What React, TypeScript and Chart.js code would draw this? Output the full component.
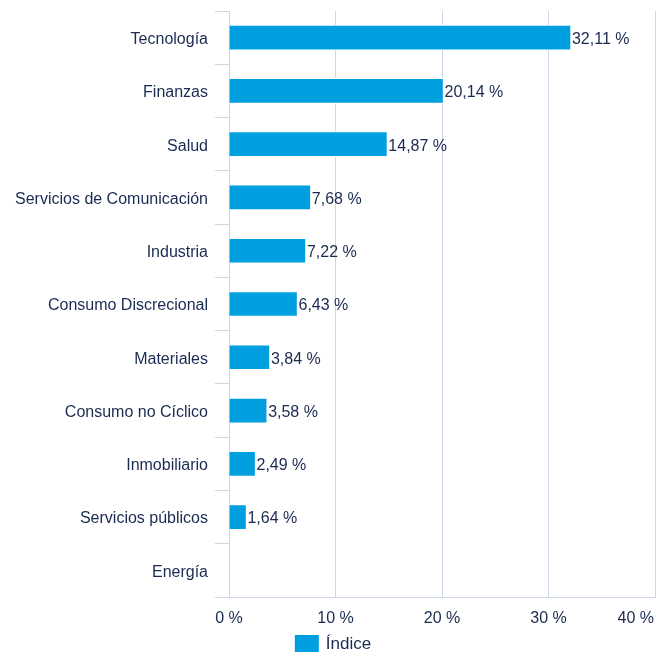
import React, { useEffect, useRef } from "react";
import { Chart, registerables } from "chart.js";

Chart.register(...registerables);

const categories: string[] = [
  "Tecnología",
  "Finanzas",
  "Salud",
  "Servicios de Comunicación",
  "Industria",
  "Consumo Discrecional",
  "Materiales",
  "Consumo no Cíclico",
  "Inmobiliario",
  "Servicios públicos",
  "Energía",
];

const indiceValues: (number | null)[] = [
  32.11, 20.14, 14.87, 7.68, 7.22, 6.43, 3.84, 3.58, 2.49, 1.64, null,
];

const xTickValues: number[] = [0, 10, 20, 30, 40];
const seriesName = "Índice";

const FONT = "'Liberation Sans', Arial, Helvetica, sans-serif";
const TEXT = "#1a2a50";
const GRID = "#ccd6eb";
const BAR = "#009fe0";

const fmt = (v: number) => v.toFixed(2).replace(".", ",") + " %";

const labelsPlugin = {
  id: "customLabels",
  afterDatasetsDraw(chart: any) {
    const ctx = chart.ctx as CanvasRenderingContext2D;
    const meta = chart.getDatasetMeta(0);
    ctx.save();
    ctx.font = `16px ${FONT}`;
    ctx.fillStyle = TEXT;
    ctx.textBaseline = "middle";
    ctx.textAlign = "left";
    meta.data.forEach((el: any, i: number) => {
      const v = indiceValues[i];
      if (v === null || v === undefined) return;
      ctx.fillText(fmt(v), el.x + 1, el.y + 2);
    });
    // x tick labels
    const xs = chart.scales.x;
    const last = xTickValues.length - 1;
    xTickValues.forEach((t, i) => {
      const px = xs.getPixelForValue(t);
      const txt = `${t} %`;
      const w = ctx.measureText(txt).width;
      let x = px - w / 2;
      if (i === last) x = Math.min(x, chart.width - 14 - w);
      ctx.fillText(txt, x, chart.chartArea.bottom + 22);
    });
    // legend
    ctx.font = `17px ${FONT}`;
    const tw = ctx.measureText(seriesName).width;
    const boxW = 24;
    const boxH = 17;
    const gap = 7;
    const total = boxW + gap + tw;
    const lx = chart.width / 2 - 1 - total / 2;
    const ly = chart.height - boxH;
    ctx.fillStyle = BAR;
    ctx.fillRect(lx, ly, boxW, boxH);
    ctx.fillStyle = TEXT;
    ctx.fillText(seriesName, lx + boxW + gap, ly + boxH / 2 + 1);
    ctx.restore();
  },
};

export default function App() {
  const ref = useRef<HTMLCanvasElement | null>(null);

  useEffect(() => {
    if (!ref.current) return;
    const chart = new Chart(ref.current, {
      type: "bar",
      data: {
        labels: categories,
        datasets: [
          {
            label: seriesName,
            data: indiceValues,
            backgroundColor: BAR,
            borderColor: "#ffffff",
            borderWidth: 1,
            barThickness: 25,
          },
        ],
      },
      options: {
        indexAxis: "y",
        animation: false,
        responsive: false,
        maintainAspectRatio: false,
        layout: { padding: { top: 11, right: 13, left: 0, bottom: 17 } },
        plugins: {
          tooltip: { enabled: false },
          legend: { display: false },
        },
        scales: {
          x: {
            min: 0,
            max: 40,
            ticks: { display: false, stepSize: 10 },
            grid: { color: GRID, drawTicks: false, lineWidth: 1 },
            border: { display: true, color: GRID, width: 1 },
            afterFit: (s: any) => {
              s.height = 38;
              s.paddingLeft = 0;
              s.paddingRight = 0;
            },
          },
          y: {
            ticks: {
              color: TEXT,
              padding: 7,
              labelOffset: 2,
              font: { family: FONT, size: 16 },
            },
            grid: {
              offset: true,
              drawOnChartArea: false,
              drawTicks: true,
              tickLength: 14,
              color: GRID,
            },
            border: { display: true, color: GRID, width: 1 },
            afterFit: (s: any) => {
              s.width = 229;
              s.paddingTop = 0;
              s.paddingBottom = 0;
            },
          },
        },
      },
      plugins: [labelsPlugin],
    });
    return () => chart.destroy();
  }, []);

  return (
    <div style={{ position: "absolute", left: 0, top: 0, width: 668, height: 652 }}>
      <canvas ref={ref} width={668} height={652} style={{ width: 668, height: 652 }} />
    </div>
  );
}
